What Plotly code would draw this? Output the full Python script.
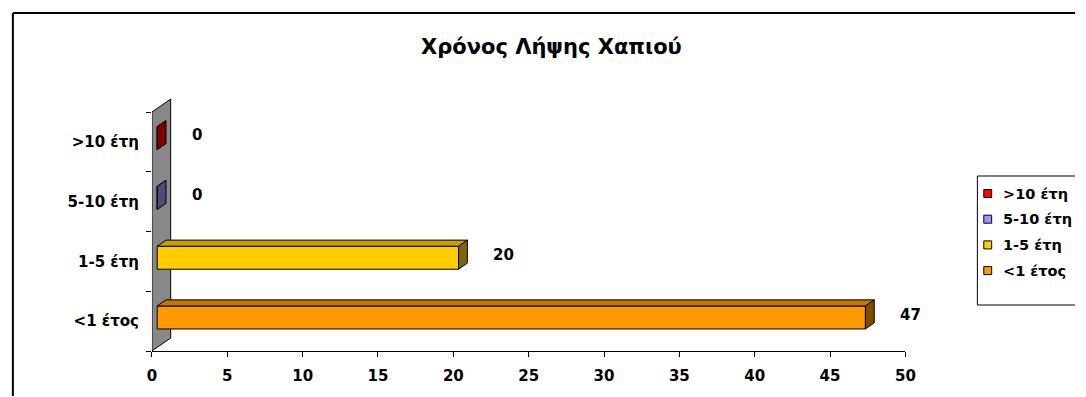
import plotly.graph_objects as go

# ---- data -------------------------------------------------------------
categories = ["<1 έτος", "1-5 έτη", "5-10 έτη", ">10 έτη"]
counts = [47, 20, 0, 0]
bar_colors = ["#FF9900", "#FFCC00", "#9999FF", "#FF0000"]
x_tick_values = list(range(0, 51, 5))
chart_title = "Χρόνος Λήψης Χαπιού"

# ---- geometry (pixels) ------------------------------------------------
W, H = 1086, 397
X_LEFT_PX, X_RIGHT_PX = 149, 913      # value axis 0 .. 50
Y_BOTTOM_PX = 351                      # value axis line
BAND_PX = 59.75                        # height of one category band
X_MIN, X_MAX = 0, 50
Y_LO, Y_HI = -0.5, 3.75                # extra room above for the wall top

WALL_DX, WALL_DY = 19, 13              # depth of the side wall (right, up)
DEPTH_FRONT, DEPTH_BACK = 0.28, 0.75   # bar position inside the depth
BAR_PX = 23                            # bar thickness

px_per_x = (X_RIGHT_PX - X_LEFT_PX) / (X_MAX - X_MIN)
px_per_y = BAND_PX
y_top_px = Y_BOTTOM_PX - (Y_HI - Y_LO) * BAND_PX

FONT = "DejaVu Sans"


def ux(px):
    return px / px_per_x


def uy(px):
    return px / px_per_y


def paper_x(px):
    return px / W


def paper_y(px):
    return 1 - px / H


def shade(hex_color, k):
    h = hex_color.lstrip("#")
    r, g, b = (int(h[i:i + 2], 16) for i in (0, 2, 4))
    return "#{:02X}{:02X}{:02X}".format(int(r * k), int(g * k), int(b * k))


def paper_line(x0, y0, x1, y1, width=1):
    return dict(type="line", xref="paper", yref="paper",
                x0=paper_x(x0), y0=paper_y(y0),
                x1=paper_x(x1), y1=paper_y(y1),
                line=dict(color="black", width=width))


fig = go.Figure()

# side wall behind the bars
wdx, wdy = ux(WALL_DX), uy(WALL_DY)
n_cat = len(categories)
shapes = [
    dict(
        type="path", xref="x", yref="y", layer="below",
        path=(f"M0,{Y_LO} L0,{Y_LO + n_cat} L{wdx},{Y_LO + n_cat + wdy} "
              f"L{wdx},{Y_LO + wdy} Z"),
        fillcolor="#888888", line=dict(color="black", width=1),
    )
]

# 3-D bars: front face as a bar, top and end faces as filled polygons
bx0 = ux(DEPTH_FRONT * WALL_DX)
by0 = uy(DEPTH_FRONT * WALL_DY)
ddx = ux((DEPTH_BACK - DEPTH_FRONT) * WALL_DX)
ddy = uy((DEPTH_BACK - DEPTH_FRONT) * WALL_DY)
bar_h = uy(BAR_PX)

for i, (cat, v, col) in enumerate(zip(categories, counts, bar_colors)):
    yc = i + by0
    ytop, ybot = yc + bar_h / 2, yc - bar_h / 2
    fig.add_trace(go.Bar(
        y=[yc], x=[v], base=[bx0], orientation="h", width=bar_h,
        marker=dict(color=col, line=dict(color="black", width=1)),
        name=cat, showlegend=False, hoverinfo="skip",
    ))
    xe = bx0 + v
    fig.add_trace(go.Scatter(
        x=[bx0, xe, xe + ddx, bx0 + ddx, bx0],
        y=[ytop, ytop, ytop + ddy, ytop + ddy, ytop],
        mode="lines", fill="toself", fillcolor=shade(col, 0.78),
        line=dict(color="black", width=1), showlegend=False, hoverinfo="skip",
    ))
    fig.add_trace(go.Scatter(
        x=[xe, xe, xe + ddx, xe + ddx, xe],
        y=[ybot, ytop, ytop + ddy, ybot + ddy, ybot],
        mode="lines", fill="toself", fillcolor=shade(col, 0.5),
        line=dict(color="black", width=1), showlegend=False, hoverinfo="skip",
    ))

# value labels to the right of each bar
annotations = []
for i, v in enumerate(counts):
    annotations.append(dict(
        x=v, y=i, xref="x", yref="y", text=str(v), showarrow=False,
        xanchor="left", yanchor="middle", xshift=38, yshift=6.5,
        font=dict(family=FONT, size=15, color="black", weight="bold"),
    ))

# title
annotations.append(dict(
    x=paper_x(554), y=paper_y(47), xref="paper", yref="paper",
    text=chart_title, showarrow=False, xanchor="center", yanchor="middle",
    font=dict(family=FONT, size=21, color="black", weight="bold"),
))

# legend box, open on the right where the chart area is cut
LEG_LEFT, LEG_TOP, LEG_BOTTOM = 986, 176, 305
LEG_ROW0, LEG_STEP = 193.5, 25.7
shapes.append(paper_line(LEG_LEFT, LEG_TOP, W - 1, LEG_TOP))
shapes.append(paper_line(LEG_LEFT, LEG_TOP, LEG_LEFT, LEG_BOTTOM))
shapes.append(paper_line(LEG_LEFT, LEG_BOTTOM, W - 1, LEG_BOTTOM))
for row, idx in enumerate(reversed(range(n_cat))):
    yc = LEG_ROW0 + row * LEG_STEP
    shapes.append(dict(
        type="rect", xref="paper", yref="paper",
        x0=paper_x(992.5), x1=paper_x(1000.5),
        y0=paper_y(yc + 4), y1=paper_y(yc - 4),
        line=dict(color="black", width=1), fillcolor=bar_colors[idx],
    ))
    annotations.append(dict(
        x=paper_x(1010), y=paper_y(yc), xref="paper", yref="paper",
        text=categories[idx], showarrow=False, xanchor="left",
        yanchor="middle",
        font=dict(family=FONT, size=14.5, color="black", weight="bold"),
    ))

# outer chart frame (top and left edges inside the picture)
shapes.append(paper_line(8, 13, W - 1, 13, width=2))
shapes.append(paper_line(8, 13, 8, H - 1, width=2))

fig.update_layout(
    width=W, height=H,
    margin=dict(l=0, r=0, t=0, b=0),
    paper_bgcolor="white", plot_bgcolor="white",
    barmode="overlay", showlegend=False,
    shapes=shapes, annotations=annotations,
    xaxis=dict(
        domain=[paper_x(X_LEFT_PX), paper_x(X_RIGHT_PX)],
        range=[X_MIN, X_MAX], tickvals=x_tick_values,
        ticks="outside", ticklen=5, tickcolor="black", tickwidth=1,
        showline=True, linecolor="black", linewidth=1,
        showgrid=False, zeroline=False, ticklabelstandoff=6,
        tickfont=dict(family=FONT, size=15, color="black", weight="bold"),
    ),
    yaxis=dict(
        domain=[paper_y(Y_BOTTOM_PX), paper_y(y_top_px)],
        range=[Y_LO, Y_HI],
        tickvals=list(range(n_cat)), ticktext=categories,
        ticks="", showline=False, showgrid=False, zeroline=False,
        minor=dict(tickvals=[k - 0.5 for k in range(n_cat + 1)],
                   ticks="outside", ticklen=5, tickcolor="black",
                   tickwidth=1),
        ticklabelstandoff=12,
        tickfont=dict(family=FONT, size=15, color="black", weight="bold"),
    ),
)

fig.write_html("out.html")
